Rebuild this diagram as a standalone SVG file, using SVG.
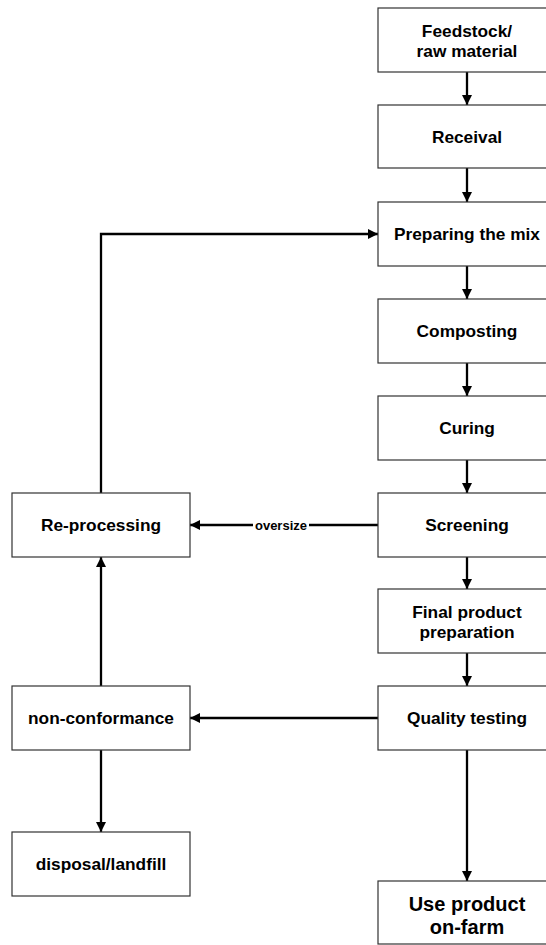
<svg xmlns="http://www.w3.org/2000/svg" width="546" height="945" viewBox="0 0 546 945">
<style>
.box{fill:#fff;stroke:#333;stroke-width:1.2}
.t{font-family:"Liberation Sans",Arial,sans-serif;font-weight:bold;font-size:17.3px;fill:#000;text-anchor:middle}
.big{font-size:20px}
.lbl{font-family:"Liberation Sans",Arial,sans-serif;font-weight:bold;font-size:13px;fill:#000;text-anchor:middle}
.c{fill:none;stroke:#000;stroke-width:2.3}
</style>
<defs>
<marker id="ah" markerUnits="userSpaceOnUse" markerWidth="11" markerHeight="11" refX="10" refY="5" orient="auto">
<path d="M0,0 L10,5 L0,10 z" fill="#000"/>
</marker>
</defs>
<rect width="546" height="945" fill="#fff"/>
<g id="connectors">
<line class="c" x1="467" y1="72" x2="467" y2="105" marker-end="url(#ah)"/>
<line class="c" x1="467" y1="168" x2="467" y2="202" marker-end="url(#ah)"/>
<line class="c" x1="467" y1="266" x2="467" y2="299" marker-end="url(#ah)"/>
<line class="c" x1="467" y1="363" x2="467" y2="396" marker-end="url(#ah)"/>
<line class="c" x1="467" y1="460" x2="467" y2="493" marker-end="url(#ah)"/>
<line class="c" x1="467" y1="557" x2="467" y2="589" marker-end="url(#ah)"/>
<line class="c" x1="467" y1="653" x2="467" y2="686" marker-end="url(#ah)"/>
<line class="c" x1="467" y1="750" x2="467" y2="881" marker-end="url(#ah)"/>
<line class="c" x1="378" y1="525" x2="190" y2="525" marker-end="url(#ah)"/>
<rect x="253" y="517" width="56" height="15" fill="#fff"/>
<text class="lbl" x="281" y="529.5">oversize</text>
<line class="c" x1="378" y1="718" x2="190" y2="718" marker-end="url(#ah)"/>
<line class="c" x1="101" y1="686" x2="101" y2="557" marker-end="url(#ah)"/>
<line class="c" x1="101" y1="750" x2="101" y2="832" marker-end="url(#ah)"/>
<polyline class="c" points="101,493 101,234 378,234" marker-end="url(#ah)"/>
</g>
<g id="feedstock"><rect class="box" x="378" y="8" width="178" height="64"/><text class="t" x="467" y="37">Feedstock/</text><text class="t" x="467" y="57">raw material</text></g>
<g id="receival"><rect class="box" x="378" y="105" width="178" height="63"/><text class="t" x="467" y="142.5">Receival</text></g>
<g id="preparing"><rect class="box" x="378" y="202" width="178" height="64"/><text class="t" x="467" y="240">Preparing the mix</text></g>
<g id="composting"><rect class="box" x="378" y="299" width="178" height="64"/><text class="t" x="467" y="337">Composting</text></g>
<g id="curing"><rect class="box" x="378" y="396" width="178" height="64"/><text class="t" x="467" y="434">Curing</text></g>
<g id="screening"><rect class="box" x="378" y="493" width="178" height="64"/><text class="t" x="467" y="531">Screening</text></g>
<g id="final"><rect class="box" x="378" y="589" width="178" height="64"/><text class="t" x="467" y="618">Final product</text><text class="t" x="467" y="638">preparation</text></g>
<g id="quality"><rect class="box" x="378" y="686" width="178" height="64"/><text class="t" x="467" y="724">Quality testing</text></g>
<g id="use"><rect class="box" x="378" y="881" width="178" height="63"/><text class="t big" x="467" y="911">Use product</text><text class="t big" x="467" y="934">on-farm</text></g>
<g id="reprocessing"><rect class="box" x="12" y="493" width="178" height="64"/><text class="t" x="101" y="531">Re-processing</text></g>
<g id="nonconformance"><rect class="box" x="12" y="686" width="178" height="64"/><text class="t" x="101" y="724">non-conformance</text></g>
<g id="disposal"><rect class="box" x="12" y="832" width="178" height="64"/><text class="t" x="101" y="870">disposal/landfill</text></g>
</svg>
